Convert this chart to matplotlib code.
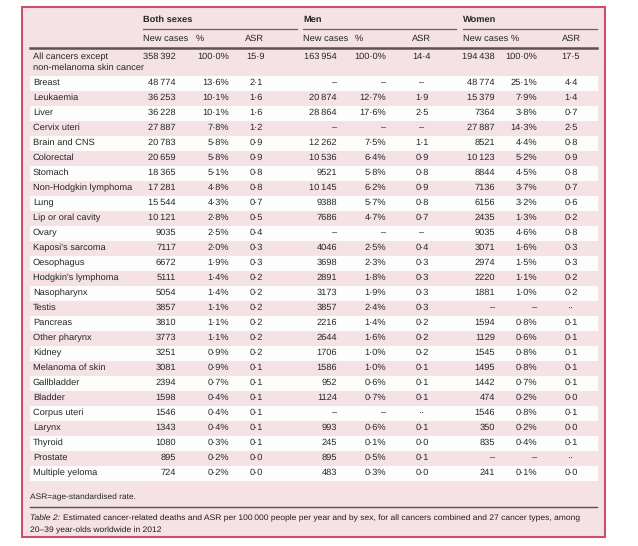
import matplotlib.pyplot as plt
from matplotlib.patches import Rectangle

plt.rcParams['font.family'] = ['Liberation Sans', 'DejaVu Sans']
plt.rcParams['text.hinting'] = 'no_hinting'

cancers = ['Breast', 'Leukaemia', 'Liver', 'Cervix uteri', 'Brain and CNS', 'Colorectal',
           'Stomach', 'Non-Hodgkin lymphoma', 'Lung', 'Lip or oral cavity', 'Ovary',
           "Kaposi's sarcoma", 'Oesophagus', "Hodgkin's lymphoma", 'Nasopharynx', 'Testis',
           'Pancreas', 'Other pharynx', 'Kidney', 'Melanoma of skin', 'Gallbladder', 'Bladder',
           'Corpus uteri', 'Larynx', 'Thyroid', 'Prostate', 'Multiple yeloma']

# totals row (all cancers except non-melanoma skin cancer)
total_n = [358392, 163954, 194438]
total_pct = [100.0, 100.0, 100.0]
total_asr = [15.9, 14.4, 17.5]

both_n = [48774, 36253, 36228, 27887, 20783, 20659, 18365, 17281, 15544, 10121, 9035, 7117,
          6672, 5111, 5054, 3857, 3810, 3773, 3251, 3081, 2394, 1598, 1546, 1343, 1080, 895, 724]
both_pct = [13.6, 10.1, 10.1, 7.8, 5.8, 5.8, 5.1, 4.8, 4.3, 2.8, 2.5, 2.0, 1.9, 1.4, 1.4, 1.1,
            1.1, 1.1, 0.9, 0.9, 0.7, 0.4, 0.4, 0.4, 0.3, 0.2, 0.2]
both_asr = [2.1, 1.6, 1.6, 1.2, 0.9, 0.9, 0.8, 0.8, 0.7, 0.5, 0.4, 0.3, 0.3, 0.2, 0.2, 0.2,
            0.2, 0.2, 0.2, 0.1, 0.1, 0.1, 0.1, 0.1, 0.1, 0.0, 0.0]

men_n = [None, 20874, 28864, None, 12262, 10536, 9521, 10145, 9388, 7686, None, 4046, 3698,
         2891, 3173, 3857, 2216, 2644, 1706, 1586, 952, 1124, None, 993, 245, 895, 483]
men_pct = [None, 12.7, 17.6, None, 7.5, 6.4, 5.8, 6.2, 5.7, 4.7, None, 2.5, 2.3, 1.8, 1.9,
           2.4, 1.4, 1.6, 1.0, 1.0, 0.6, 0.7, None, 0.6, 0.1, 0.5, 0.3]
men_asr = [None, 1.9, 2.5, None, 1.1, 0.9, 0.8, 0.9, 0.8, 0.7, None, 0.4, 0.3, 0.3, 0.3, 0.3,
           0.2, 0.2, 0.2, 0.1, 0.1, 0.1, None, 0.1, 0.0, 0.1, 0.0]

women_n = [48774, 15379, 7364, 27887, 8521, 10123, 8844, 7136, 6156, 2435, 9035, 3071, 2974,
           2220, 1881, None, 1594, 1129, 1545, 1495, 1442, 474, 1546, 350, 835, None, 241]
women_pct = [25.1, 7.9, 3.8, 14.3, 4.4, 5.2, 4.5, 3.7, 3.2, 1.3, 4.6, 1.6, 1.5, 1.1, 1.0, None,
             0.8, 0.6, 0.8, 0.8, 0.7, 0.2, 0.8, 0.2, 0.4, None, 0.1]
women_asr = [4.4, 1.4, 0.7, 2.5, 0.8, 0.9, 0.8, 0.7, 0.6, 0.2, 0.8, 0.3, 0.3, 0.2, 0.2, None,
             0.1, 0.1, 0.1, 0.1, 0.1, 0.0, 0.1, 0.0, 0.1, None, 0.0]

# sex-specific cancers shown with ".." in the ASR column of the other sex
dotted = ['Testis', 'Corpus uteri', 'Prostate']

TXT = '#262626'
BG = '#f4e2e4'
BAND = '#fefdfd'
EDGE = '#cc4f72'
fs = 6.7


def fmt_n(v):
    if v is None:
        return '–'
    s = str(v)
    if v >= 10000:
        s = s[:-3] + '\u2009' + s[-3:]
    return s


def fmt_p(v):
    if v is None:
        return '–'
    return ('%.1f' % v).replace('.', '·') + '%'


def fmt_a(v, dots=False):
    if v is None:
        return '··' if dots else '–'
    return ('%.1f' % v).replace('.', '·')


fig = plt.figure(figsize=(6.38, 5.46), dpi=100)
ax = fig.add_axes([0, 0, 1, 1])
ax.set_xlim(0, 638)
ax.set_ylim(546, 0)
ax.axis('off')

ax.add_patch(Rectangle((22, 7), 583, 530, facecolor=BG, edgecolor=EDGE, lw=1.5))

# name, line start/end, value columns (x, ha), header x, data
groups = [
    ('Both sexes', 143, 297, [(176, 'right'), (229, 'right'), (256, 'center')],
     [143, 196, 245], both_n, both_pct, both_asr),
    ('Men', 303, 456, [(337, 'right'), (386, 'right'), (422, 'center')],
     [303, 355, 412], men_n, men_pct, men_asr),
    ('Women', 463, 597, [(495, 'right'), (537, 'right'), (571, 'center')],
     [463, 511, 562], women_n, women_pct, women_asr),
]

row0, dy = 83, 15
for i in range(len(cancers)):
    y = row0 + i * dy
    if i % 2 == 0:
        ax.add_patch(Rectangle((30, y - 7.5), 568, 15, facecolor=BAND, edgecolor='none'))
    ax.text(33, y, cancers[i], fontsize=fs, color=TXT, va='center', ha='left')

for g, (name, x0, x1, cols, hx, nv, pv, av) in enumerate(groups):
    ax.text(x0, 20, name, fontsize=fs, color=TXT, weight='bold', va='center')
    ax.plot([x0, x1], [29, 29], color='#6f6060', lw=0.9)
    for lab, x in zip(['New cases', '%', 'ASR'], hx):
        ax.text(x, 39, lab, fontsize=fs, color=TXT, va='center')
    ax.text(cols[0][0], 57, fmt_n(total_n[g]), fontsize=fs, color=TXT, va='center', ha=cols[0][1])
    ax.text(cols[1][0], 57, fmt_p(total_pct[g]), fontsize=fs, color=TXT, va='center', ha=cols[1][1])
    ax.text(cols[2][0], 57, fmt_a(total_asr[g]), fontsize=fs, color=TXT, va='center', ha=cols[2][1])
    for i in range(len(cancers)):
        y = row0 + i * dy
        ax.text(cols[0][0], y, fmt_n(nv[i]), fontsize=fs, color=TXT, va='center', ha=cols[0][1])
        ax.text(cols[1][0], y, fmt_p(pv[i]), fontsize=fs, color=TXT, va='center', ha=cols[1][1])
        ax.text(cols[2][0], y, fmt_a(av[i], cancers[i] in dotted), fontsize=fs, color=TXT,
                va='center', ha=cols[2][1])

ax.text(33, 57, 'All cancers except', fontsize=fs, color=TXT, va='center')
ax.text(33, 67.5, 'non-melanoma skin cancer', fontsize=fs, color=TXT, va='center')

ax.plot([30, 597], [48, 48], color='#5f5050', lw=1.8)

ax.text(30, 497, 'ASR=age-standardised rate.', fontsize=6.0, color=TXT, va='center')
ax.plot([30, 597], [507, 507], color='#5f5050', lw=1.0)
t1 = ax.text(30, 518, 'Table 2:', fontsize=6.1, color='#1e1e1e', va='center', style='italic')
ax.annotate('Estimated cancer-related deaths and ASR per 100\u2009000 people per year and by sex, '
            'for all cancers combined and 27 cancer types, among', xy=(1, 0.5), xycoords=t1,
            xytext=(2.5, 0), textcoords='offset points', fontsize=6.1, color='#1e1e1e',
            va='center', ha='left')
ax.text(30, 530, '20–39 year-olds worldwide in 2012', fontsize=6.1, color='#1e1e1e', va='center')

fig.savefig('out.png', dpi=100, facecolor='white')
